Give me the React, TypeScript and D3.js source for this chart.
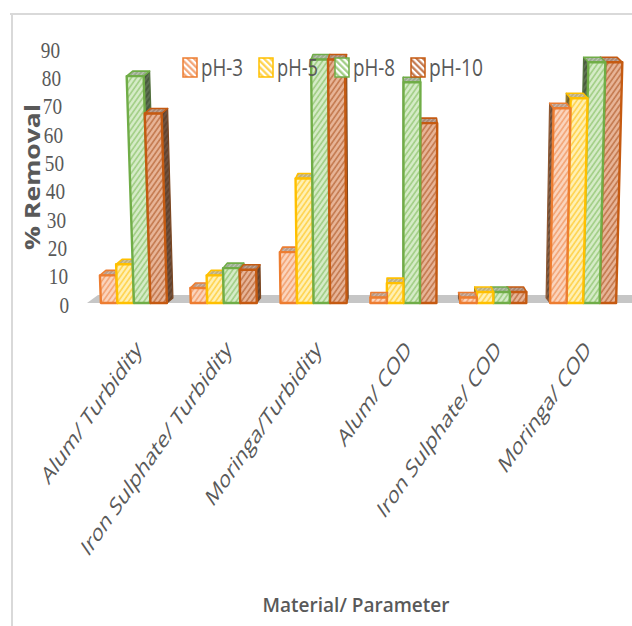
import React from "react";
import * as d3 from "d3";

const categories = [
  "Alum/ Turbidity",
  "Iron Sulphate/ Turbidity",
  "Moringa/Turbidity",
  "Alum/ COD",
  "Iron Sulphate/ COD",
  "Moringa/ COD",
];
const seriesNames = ["pH-3", "pH-5", "pH-8", "pH-10"];
const pH3 = [10, 5.4, 18.4, 2, 2, 70.4];
const pH5 = [14, 10, 45, 7.2, 4, 74];
const pH8 = [82, 12.6, 88, 79.8, 4, 87];
const pH10 = [68.5, 12, 88, 65, 4, 87];
const seriesValues = [pH3, pH5, pH8, pH10];
const yTicks = [0, 10, 20, 30, 40, 50, 60, 70, 80, 90];
const legendTextLen = [42, 41, 42, 54];

const strokeColors = ["#ED7D31", "#FFC000", "#70AD47", "#C55A11"];
const bgColors = ["#FBD5BE", "#FFF1B5", "#D6ECC8", "#E8B598"];
const lineColors = ["#F3A373", "#FFD24A", "#9FCD82", "#C2774C"];

const W = 632;
const H = 626;
const XV = 400; // perspective vanishing x
const K = 1.2e-4; // slant factor
const C = 0.025; // depth factor
const DEPTH_Y = -5;
const TEXT = "#595959";

export default function App() {
  const x0 = d3
    .scaleBand<string>()
    .domain(categories)
    .range([89, 628])
    .paddingInner(0.265)
    .paddingOuter(0.1325);
  const x1 = d3
    .scaleBand<string>()
    .domain(seriesNames)
    .range([0, x0.bandwidth()]);
  const y = d3.scaleLinear().domain([0, 90]).range([303, 54]);
  const yLab = d3.scaleLinear().domain([0, 90]).range([305, 50]);
  const yb = y(0);

  const slant = (x: number, h: number) => x + (x - XV) * K * h;

  const groups = categories.map((cat, ci) => {
    const cx = (x0(cat) as number) + x0.bandwidth() / 2;
    const bars = seriesNames.map((s, si) => {
      const v = seriesValues[si][ci];
      const xl = (x0(cat) as number) + (x1(s) as number);
      const xr = xl + x1.bandwidth();
      const yt = y(v);
      const h = yb - yt;
      const tl = slant(xl, h);
      const tr = slant(xr, h);
      let ddx = (XV - (xl + xr) / 2) * C;
      ddx = Math.max(-6, Math.min(6, ddx));
      const front = [
        [xl, yb],
        [xr, yb],
        [tr, yt],
        [tl, yt],
      ];
      const top = [
        [tl, yt],
        [tr, yt],
        [tr + ddx, yt + DEPTH_Y],
        [tl + ddx, yt + DEPTH_Y],
      ];
      const side =
        ddx >= 0
          ? [
              [xr, yb],
              [tr, yt],
              [tr + ddx, yt + DEPTH_Y],
              [xr + ddx, yb + DEPTH_Y],
            ]
          : [
              [xl, yb],
              [tl, yt],
              [tl + ddx, yt + DEPTH_Y],
              [xl + ddx, yb + DEPTH_Y],
            ];
      return { si, front, top, side, key: cat + s };
    });
    const ordered = cx < XV ? bars : [...bars].reverse();
    return { cat, cx, bars: ordered };
  });

  const pts = (p: number[][]) => p.map((q) => q.join(",")).join(" ");

  const legendX0 = 183;
  const legendStep = 76;

  return (
    <svg
      width={W}
      height={H}
      style={{ position: "absolute", left: 0, top: 0, background: "#fff" }}
    >
      <defs>
        {seriesNames.map((s, i) => (
          <React.Fragment key={s}>
            <pattern
              id={`hatch${i}`}
              patternUnits="userSpaceOnUse"
              width={4.2}
              height={4.2}
              patternTransform="rotate(35)"
            >
              <rect width={4.2} height={4.2} fill={bgColors[i]} />
              <line x1={1} y1={0} x2={1} y2={4.2} stroke={lineColors[i]} strokeWidth={1.6} />
            </pattern>
            <pattern
              id={`top${i}`}
              patternUnits="userSpaceOnUse"
              width={3}
              height={3}
              patternTransform="rotate(45)"
            >
              <rect width={3} height={3} fill={d3.interpolateRgb(bgColors[i], "#9a9a9a")(0.45)} />
              <line x1={1} y1={0} x2={1} y2={3} stroke={d3.interpolateRgb(lineColors[i], "#555")(0.5)} strokeWidth={1} />
            </pattern>
            <pattern
              id={`side${i}`}
              patternUnits="userSpaceOnUse"
              width={4}
              height={4}
              patternTransform="rotate(35)"
            >
              <rect width={4} height={4} fill={d3.interpolateRgb(strokeColors[i], "#3a3a3a")(0.72)} />
              <line x1={1} y1={0} x2={1} y2={4} stroke={d3.interpolateRgb(lineColors[i], "#4a4a4a")(0.6)} strokeWidth={1.2} />
            </pattern>
            <pattern
              id={`leg${i}`}
              patternUnits="userSpaceOnUse"
              width={4.5}
              height={4.5}
              patternTransform="rotate(-45)"
            >
              <rect width={4.5} height={4.5} fill="#ffffff" />
              <line x1={1.2} y1={0} x2={1.2} y2={4.5} stroke={lineColors[i]} strokeWidth={2.2} />
            </pattern>
          </React.Fragment>
        ))}
      </defs>

      {/* frame */}
      <line x1={10} y1={14} x2={W} y2={14} stroke="#D9D9D9" strokeWidth={2} />
      <line x1={12} y1={14} x2={12} y2={H} stroke="#D9D9D9" strokeWidth={2} />

      {/* floor */}
      <polygon
        points={pts([
          [87, yb],
          [98, yb - 8],
          [W, yb - 8],
          [W, yb],
        ])}
        fill="#C6C6C6"
      />

      {/* bars */}
      {groups.map((g) => (
        <g key={g.cat}>
          {g.bars.map((b) => (
            <g key={b.key}>
              <polygon
                points={pts(b.side)}
                fill={`url(#side${b.si})`}
                stroke={d3.interpolateRgb(strokeColors[b.si], "#333")(0.5)}
                strokeWidth={1.2}
                strokeLinejoin="round"
              />
              <polygon
                points={pts(b.top)}
                fill={`url(#top${b.si})`}
                stroke={strokeColors[b.si]}
                strokeWidth={1.6}
                strokeLinejoin="round"
              />
              <polygon
                points={pts(b.front)}
                fill={`url(#hatch${b.si})`}
                stroke={strokeColors[b.si]}
                strokeWidth={2.4}
                strokeLinejoin="round"
              />
            </g>
          ))}
        </g>
      ))}

      {/* y ticks */}
      {yTicks.map((t) => {
        const yy = yLab(t);
        const xr = 69 - (t / 90) * 9;
        return (
          <text
            key={t}
            transform={`translate(${xr},${yy}) scale(0.8,1)`}
            textAnchor="end"
            dominantBaseline="central"
            fontFamily="'Liberation Serif', 'DejaVu Serif', serif"
            fontSize={24}
            fill={TEXT}
          >
            {t}
          </text>
        );
      })}

      {/* y title */}
      <text
        transform="translate(32,177) scale(0.78,1) rotate(-90)"
        textAnchor="middle"
        dominantBaseline="central"
        fontFamily="'Open Sans', sans-serif"
        fontWeight={700}
        fontSize={27}
        fill={TEXT}
        textLength={146}
        lengthAdjust="spacingAndGlyphs"
      >
        % Removal
      </text>

      {/* x labels */}
      {groups.map((g) => (
        <text
          key={g.cat + "lbl"}
          transform={`translate(${g.cx + 9},351) scale(0.7,1) rotate(-45) scale(1.1,1)`}
          textAnchor="end"
          fontFamily="'Open Sans', sans-serif"
          fontSize={24}
          fill={TEXT}
        >
          {g.cat}
        </text>
      ))}

      {/* x title */}
      <text
        x={356}
        y={612}
        textAnchor="middle"
        fontFamily="'Open Sans', sans-serif"
        fontWeight={600}
        fontSize={20}
        fill={TEXT}
        textLength={187}
        lengthAdjust="spacingAndGlyphs"
      >
        Material/ Parameter
      </text>

      {/* legend */}
      {seriesNames.map((s, i) => {
        const lx = legendX0 + i * legendStep;
        return (
          <g key={s + "leg"}>
            <rect
              x={lx}
              y={58}
              width={14}
              height={19}
              fill={`url(#leg${i})`}
              stroke={strokeColors[i]}
              strokeWidth={1.5}
            />
            <text
              x={lx + 18}
              y={76}
              fontFamily="'Open Sans', sans-serif"
              fontSize={24}
              fill={TEXT}
              textLength={legendTextLen[i]}
              lengthAdjust="spacingAndGlyphs"
            >
              {s}
            </text>
          </g>
        );
      })}
    </svg>
  );
}
